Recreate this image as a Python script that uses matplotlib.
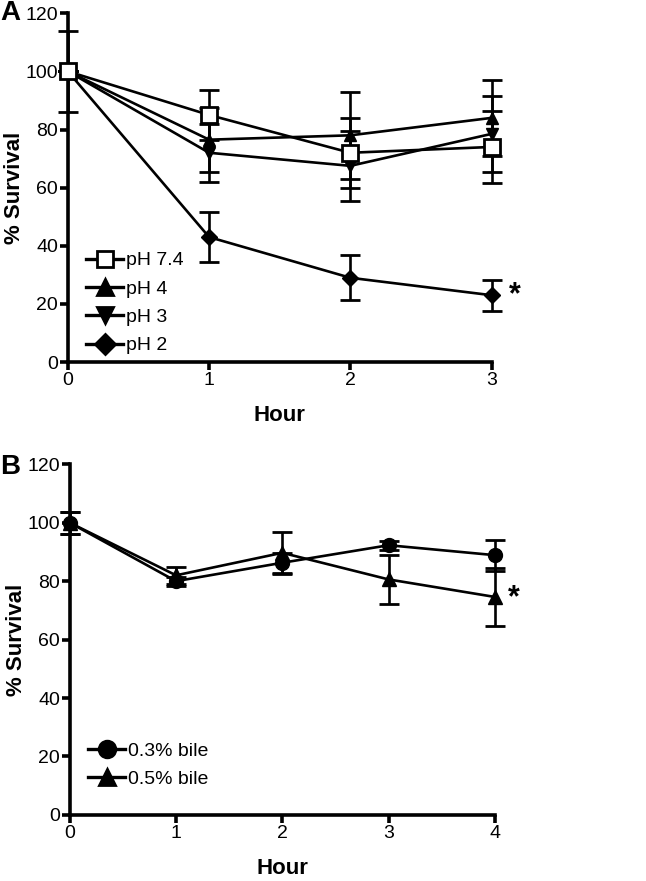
import matplotlib
matplotlib.use('Agg')
import matplotlib.pyplot as plt
from matplotlib.lines import Line2D

plt.rcParams['font.family'] = ['Liberation Sans', 'DejaVu Sans']

# panel A: acid tolerance
hours_a = [0, 1, 2, 3]
ph74 = [100, 85, 72, 74]
ph74_err = [0, 8.6, 12, 12.5]
ph4 = [100, 76.5, 78, 84]
ph4_err = [0, 11, 15, 13]
ph3 = [100, 72, 67.5, 78.5]
ph3_err = [14, 10, 12, 13]
ph2 = [100, 43, 29, 23]
ph2_err = [0, 8.5, 7.8, 5.3]

# panel B: bile tolerance
hours_b = [0, 1, 2, 3, 4]
bile03 = [100, 80, 86.3, 92.3, 88.9]
bile03_err = [3.8, 1.5, 3.5, 1.5, 5.3]
bile05 = [100, 82, 89.7, 80.6, 74.6]
bile05_err = [3.8, 3, 7.2, 8.5, 10]

fig = plt.figure(figsize=(6.46, 8.81), dpi=100)
ax1 = fig.add_axes([0.105, 0.589, 0.656, 0.396])
ax2 = fig.add_axes([0.108, 0.075, 0.658, 0.398])

eb = dict(color='black', lw=1.9, elinewidth=1.9, capsize=7, capthick=2,
          clip_on=False)

ax1.errorbar(hours_a, ph2, yerr=ph2_err, marker='D', ms=8, mfc='black', zorder=3, **eb)
ax1.errorbar(hours_a, ph3, yerr=ph3_err, marker='v', ms=9, mfc='black', zorder=3, **eb)
ax1.errorbar(hours_a, ph4, yerr=ph4_err, marker='^', ms=9, mfc='black', zorder=3, **eb)
ax1.errorbar(hours_a, ph74, yerr=ph74_err, marker='s', ms=11, mfc='white',
             mew=2, zorder=4, **eb)

ax2.errorbar(hours_b, bile05, yerr=bile05_err, marker='^', ms=10, mfc='black', zorder=3, **eb)
ax2.errorbar(hours_b, bile03, yerr=bile03_err, marker='o', ms=10, mfc='black', zorder=4, **eb)

def handle(marker, ms, fill='black'):
    return Line2D([], [], color='black', lw=2.4, marker=marker, ms=ms,
                  mfc=fill, mew=2)

leg_a = [handle('s', 12, 'white'), handle('^', 12), handle('v', 12), handle('D', 10)]
lab_a = ['pH 7.4', 'pH 4', 'pH 3', 'pH 2']
leg_b = [handle('o', 12), handle('^', 12)]
lab_b = ['0.3% bile', '0.5% bile']

for ax, hrs, hs, ls, ly in [(ax1, hours_a, leg_a, lab_a, 0.0),
                            (ax2, hours_b, leg_b, lab_b, 0.055)]:
    ax.set_xlim(0, hrs[-1])
    ax.set_ylim(0, 120)
    ax.set_xticks(hrs)
    ax.set_yticks([0, 20, 40, 60, 80, 100, 120])
    ax.spines['top'].set_visible(False)
    ax.spines['right'].set_visible(False)
    ax.spines['left'].set_linewidth(2.6)
    ax.spines['bottom'].set_linewidth(2.6)
    ax.tick_params(width=2.6, length=6, labelsize=14, pad=1)
    ax.set_xlabel('Hour', fontsize=16, fontweight='bold', labelpad=12)
    ax.set_ylabel('% Survival', fontsize=16, fontweight='bold')
    ax.yaxis.set_label_coords(-0.1, 0.5)
    ax.legend(hs, ls, loc='lower left', frameon=False,
              fontsize=14, handlelength=1.9, handletextpad=0.15,
              borderaxespad=0.0, labelspacing=0.55,
              bbox_to_anchor=(0.025, ly))

ax1.text(3.12, 23, '*', fontsize=22, fontweight='bold', va='center')
ax2.text(4.12, 74, '*', fontsize=22, fontweight='bold', va='center')
fig.text(0.0, 0.985, 'A', fontsize=20, fontweight='bold', va='center')
fig.text(0.0, 0.47, 'B', fontsize=20, fontweight='bold', va='center')

fig.savefig('out.png', dpi=100)
